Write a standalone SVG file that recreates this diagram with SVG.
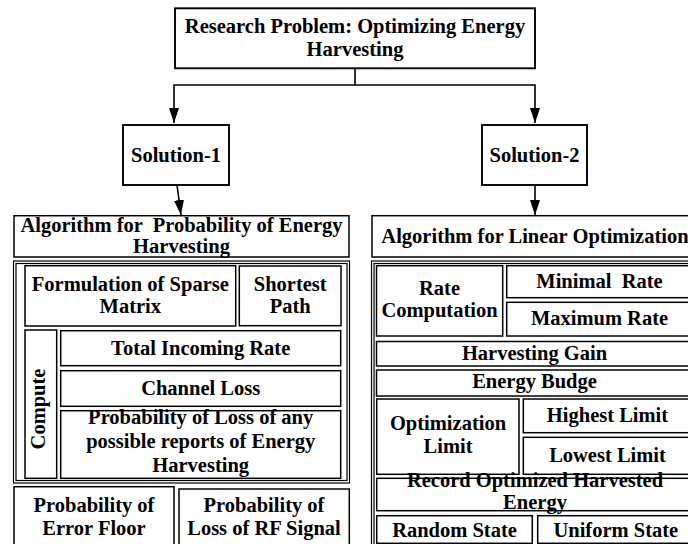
<svg xmlns="http://www.w3.org/2000/svg" width="688" height="544" viewBox="0 0 688 544" font-family="'Liberation Serif', 'Times New Roman', Tinos, serif">
<defs>
<style>
.b{fill:#fff;stroke:#000;stroke-width:1.5}
.c{fill:none;stroke:#000;stroke-width:1.2}
.t{font-family:'Liberation Serif','Times New Roman',Tinos,serif;font-weight:700;font-size:20.5px;fill:#000;text-anchor:middle;white-space:pre}
.l{fill:none;stroke:#000;stroke-width:1.6}
</style>
<marker id="ah" markerUnits="userSpaceOnUse" markerWidth="15" markerHeight="10" refX="15" refY="5" orient="auto">
<path d="M0,0 L15,5 L0,10 Z" fill="#000"/>
</marker>
</defs>
<rect width="688" height="544" fill="#fff"/>

<g id="connectors">
<path class="l" d="M355,68.3 V85 H174 V123" marker-end="url(#ah)"/>
<path class="l" d="M355,85 H535 V123" marker-end="url(#ah)"/>
<path class="l" d="M177,185 L181,215" marker-end="url(#ah)"/>
<path class="l" d="M535,185 V215" marker-end="url(#ah)"/>
</g>

<g id="research-problem">
<rect class="b" x="175" y="8.3" width="360" height="60" style="stroke-width:1.9"/>
<text class="t" x="355" y="33">Research Problem: Optimizing Energy</text>
<text class="t" x="355" y="56">Harvesting</text>
</g>

<g id="solution-1">
<rect class="b" x="123" y="125" width="106" height="60" style="stroke-width:1.9"/>
<text class="t" x="176" y="161.5">Solution-1</text>
</g>

<g id="solution-2">
<rect class="b" x="482" y="125" width="105" height="60" style="stroke-width:1.9"/>
<text class="t" x="534.5" y="161.5">Solution-2</text>
</g>

<g id="alg-probability">
<rect class="b" x="14" y="215.7" width="335" height="41.3"/>
<text class="t" x="181.5" y="231.7" xml:space="preserve">Algorithm for  Probability of Energy</text>
<text class="t" x="181.5" y="253.3">Harvesting</text>
</g>

<g id="left-container">
<rect class="c" x="13.5" y="261" width="336" height="222"/>
<rect class="c" x="16" y="263.5" width="331" height="217"/>
</g>

<g id="sparse-matrix">
<rect class="b" x="25" y="265.7" width="210.7" height="60.3"/>
<text class="t" x="130.3" y="290.7">Formulation of Sparse</text>
<text class="t" x="130.3" y="313.3">Matrix</text>
</g>

<g id="shortest-path">
<rect class="b" x="239.3" y="266" width="101.7" height="59.7"/>
<text class="t" x="290.2" y="290.7">Shortest</text>
<text class="t" x="290.2" y="313.3">Path</text>
</g>

<g id="compute">
<rect class="b" x="25" y="330" width="31.7" height="148.3"/>
<text class="t" transform="translate(44.5,409) rotate(-90)" x="0" y="0">Compute</text>
</g>

<g id="total-incoming-rate">
<rect class="b" x="60.7" y="330.7" width="280" height="35"/>
<text class="t" x="200.7" y="355">Total Incoming Rate</text>
</g>

<g id="channel-loss">
<rect class="b" x="60.7" y="370.7" width="280" height="35.6"/>
<text class="t" x="200.7" y="395">Channel Loss</text>
</g>

<g id="prob-loss-reports">
<rect class="b" x="60.7" y="410.7" width="280" height="67.6"/>
<text class="t" x="200.7" y="424">Probability of Loss of any</text>
<text class="t" x="200.7" y="448">possible reports of Energy</text>
<text class="t" x="200.7" y="471.7">Harvesting</text>
</g>

<g id="prob-error-floor">
<rect class="b" x="14" y="486.7" width="160" height="62"/>
<text class="t" x="94" y="511.7">Probability of</text>
<text class="t" x="94" y="535">Error Floor</text>
</g>

<g id="prob-loss-rf">
<rect class="b" x="179" y="489" width="170.3" height="60"/>
<text class="t" x="264" y="511.7">Probability of</text>
<text class="t" x="264" y="535">Loss of RF Signal</text>
</g>

<g id="alg-linear">
<rect class="b" x="372" y="215.7" width="326" height="41.3"/>
<text class="t" x="535" y="242.7">Algorithm for Linear Optimization</text>
</g>

<g id="right-container">
<rect class="c" x="371.5" y="261" width="330" height="290"/>
<rect class="c" x="374" y="263.5" width="325" height="285"/>
</g>

<g id="rate-computation">
<rect class="b" x="376.5" y="265.7" width="126.2" height="70.3"/>
<text class="t" x="439.5" y="295">Rate</text>
<text class="t" x="439.5" y="317.3">Computation</text>
</g>

<g id="minimal-rate">
<rect class="b" x="506.7" y="265.7" width="186" height="32"/>
<text class="t" x="599.5" y="288.3" xml:space="preserve">Minimal  Rate</text>
</g>

<g id="maximum-rate">
<rect class="b" x="506.7" y="302.3" width="186" height="33.7"/>
<text class="t" x="599.5" y="325">Maximum Rate</text>
</g>

<g id="harvesting-gain">
<rect class="b" x="376.5" y="341.5" width="316" height="24.5"/>
<text class="t" x="534.5" y="360">Harvesting Gain</text>
</g>

<g id="energy-budge">
<rect class="b" x="376.5" y="370" width="316" height="26"/>
<text class="t" x="534.5" y="388.3">Energy Budge</text>
</g>

<g id="optimization-limit">
<rect class="b" x="376.7" y="399" width="142.3" height="75.3"/>
<text class="t" x="448" y="430">Optimization</text>
<text class="t" x="448" y="453.3">Limit</text>
</g>

<g id="highest-limit">
<rect class="b" x="523.3" y="399" width="169" height="33.7"/>
<text class="t" x="607.5" y="421.7">Highest Limit</text>
</g>

<g id="lowest-limit">
<rect class="b" x="523.3" y="437.3" width="169" height="37"/>
<text class="t" x="607.5" y="461.7">Lowest Limit</text>
</g>

<g id="record-optimized">
<rect class="b" x="376.7" y="478.3" width="316" height="32.4"/>
<text class="t" x="535" y="486.7">Record Optimized Harvested</text>
<text class="t" x="535" y="509">Energy</text>
</g>

<g id="random-state">
<rect class="b" x="376.7" y="515.7" width="155.6" height="27.6"/>
<text class="t" x="454.5" y="536.7">Random State</text>
</g>

<g id="uniform-state">
<rect class="b" x="537.7" y="515.7" width="156" height="27.6"/>
<text class="t" x="615.8" y="536.7">Uniform State</text>
</g>
</svg>
